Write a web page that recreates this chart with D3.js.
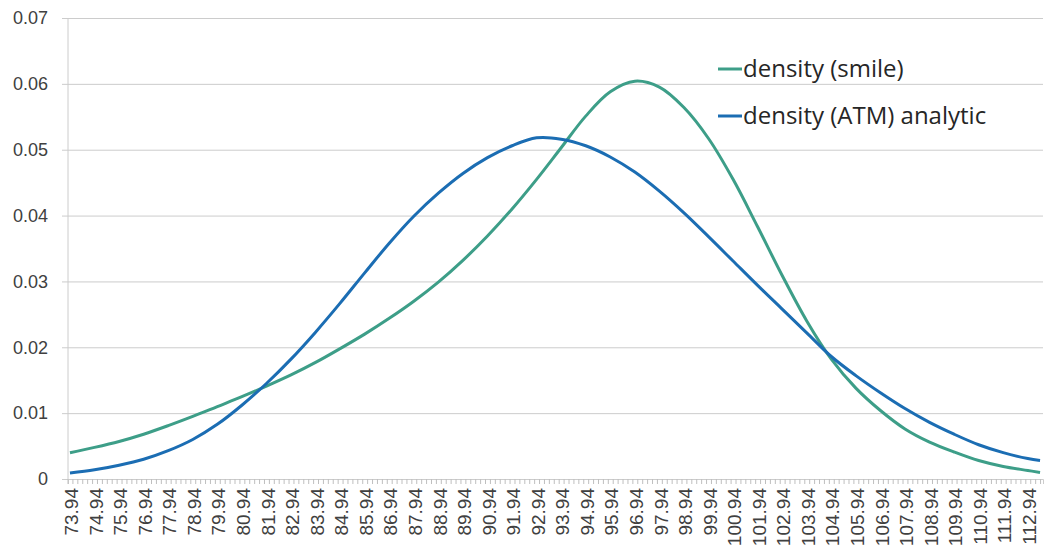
<!DOCTYPE html>
<html>
<head>
<meta charset="utf-8">
<script src="https://cdn.jsdelivr.net/npm/d3@7"></script>
<style>
  body { margin: 0; background: #fff; }
  .axis text { font-family: "Liberation Sans", Arial, sans-serif; fill: #404040; }
  .legend text { font-family: "Open Sans", "Noto Sans", sans-serif; fill: #262626; }
</style>
</head>
<body>
<div id="chart"></div>
<script>

// strike points (x values) of both series
var strikes = [73.94, 74.94, 75.94, 76.94, 77.94, 78.94, 79.94, 80.94, 81.94, 82.94,
               83.94, 84.94, 85.94, 86.94, 87.94, 88.94, 89.94, 90.94, 91.94, 92.94,
               93.94, 94.94, 95.94, 96.94, 97.94, 98.94, 99.94, 100.94, 101.94, 102.94,
               103.94, 104.94, 105.94, 106.94, 107.94, 108.94, 109.94, 110.94, 111.94, 112.94,
               113.44];

var densitySmile = [0.0040, 0.0048, 0.0057, 0.0068, 0.0081, 0.0095, 0.0110, 0.0125, 0.0141, 0.0158,
                    0.0177, 0.0198, 0.0220, 0.0244, 0.0270, 0.0299, 0.0332, 0.0369, 0.0410, 0.0455,
                    0.0503, 0.0551, 0.0588, 0.0604, 0.0595, 0.0564, 0.0517, 0.0455, 0.0383, 0.0309,
                    0.0240, 0.0182, 0.0138, 0.0104, 0.0076, 0.0056, 0.0041, 0.0028, 0.0019, 0.0013,
                    0.0010];

var densityATM = [0.0009, 0.0014, 0.0021, 0.0030, 0.0043, 0.0060, 0.0083, 0.0112, 0.0145, 0.0182,
                  0.0223, 0.0267, 0.0313, 0.0358, 0.0399, 0.0434, 0.0464, 0.0488, 0.0506, 0.0518,
                  0.0516, 0.0506, 0.0489, 0.0466, 0.0437, 0.0404, 0.0368, 0.0331, 0.0294, 0.0258,
                  0.0222, 0.0186, 0.0157, 0.0131, 0.0107, 0.0086, 0.0068, 0.0052, 0.0040, 0.0031,
                  0.0028];

var xTickLabels = ["73.94", "74.94", "75.94", "76.94", "77.94", "78.94", "79.94", "80.94", "81.94", "82.94",
                   "83.94", "84.94", "85.94", "86.94", "87.94", "88.94", "89.94", "90.94", "91.94", "92.94",
                   "93.94", "94.94", "95.94", "96.94", "97.94", "98.94", "99.94", "100.94", "101.94", "102.94",
                   "103.94", "104.94", "105.94", "106.94", "107.94", "108.94", "109.94", "110.94", "111.94", "112.94"];

var yTicks = [0, 0.01, 0.02, 0.03, 0.04, 0.05, 0.06, 0.07];

var seriesNames = ["density (smile)", "density (ATM) analytic"];
var seriesColors = ["#3d9e88", "#1b6db3"];

var margin = { top: 18, right: 2, bottom: 73, left: 68 };
var width = 1045 - margin.left - margin.right;
var height = 552 - margin.top - margin.bottom;

var x = d3.scaleLinear()
  .domain([73.86, 113.56])
  .range([0, width]);
var y = d3.scaleLinear()
  .domain([0, 0.07])
  .range([height, 0]);

var svg = d3.select("#chart").append("svg")
  .attr("width", 1045)
  .attr("height", 552);

var g = svg.append("g")
  .attr("transform", "translate(" + margin.left + "," + margin.top + ")");

// horizontal gridlines + y labels
var yAxis = d3.axisLeft(y)
  .tickValues(yTicks)
  .tickSize(-width - 6)
  .tickFormat(function(d) { return d === 0 ? "0" : d3.format(".2f")(d); });

var yG = g.append("g")
  .attr("class", "axis")
  .attr("transform", "translate(-6,0)")
  .call(yAxis);
yG.select(".domain").remove();
yG.selectAll("line").attr("stroke", "#cccccc").attr("stroke-width", 1);
yG.selectAll("text").style("font-size", "18px").attr("x", -14);

g.append("line")
  .attr("x1", 0).attr("x2", 0)
  .attr("y1", 0).attr("y2", height)
  .attr("stroke", "#cccccc");

// x axis: minor ticks every 0.2, labels every unit
var minorTicks = d3.range(0, 199).map(function(i) { return 73.84 + i * 0.2; });
var xMinor = d3.axisBottom(x)
  .tickValues(minorTicks)
  .tickSize(5)
  .tickFormat("");
var xm = g.append("g")
  .attr("class", "axis")
  .attr("transform", "translate(0," + height + ")")
  .call(xMinor);
xm.select(".domain").attr("stroke", "#cccccc");
xm.selectAll("line").attr("stroke", "#bfbfbf");

var labelValues = xTickLabels.map(function(d) { return +d; });
var xLabels = d3.axisBottom(x)
  .tickValues(labelValues)
  .tickSize(0)
  .tickFormat(function(d, i) { return xTickLabels[i]; });
var xl = g.append("g")
  .attr("class", "axis")
  .attr("transform", "translate(0," + height + ")")
  .call(xLabels);
xl.select(".domain").remove();
xl.selectAll("text")
  .style("font-size", "19px")
  .style("text-anchor", "end")
  .attr("transform", "rotate(-90)")
  .attr("x", -9)
  .attr("y", 1)
  .attr("dy", "0.35em");

// lines
var allSeries = [densitySmile, densityATM];
var line = d3.line()
  .x(function(d, i) { return x(strikes[i]); })
  .y(function(d) { return y(d); })
  .curve(d3.curveCatmullRom);

g.selectAll(".series")
  .data(allSeries)
  .enter()
  .append("path")
  .attr("class", "series")
  .attr("fill", "none")
  .attr("stroke", function(d, i) { return seriesColors[i]; })
  .attr("stroke-width", 3)
  .attr("stroke-linejoin", "round")
  .attr("d", line);

// legend
var legend = svg.append("g")
  .attr("class", "legend")
  .attr("transform", "translate(718,69)");

var item = legend.selectAll("g")
  .data(seriesNames)
  .enter()
  .append("g")
  .attr("transform", function(d, i) { return "translate(0," + (i * 47) + ")"; });

item.append("line")
  .attr("x1", 0).attr("x2", 24)
  .attr("stroke", function(d, i) { return seriesColors[i]; })
  .attr("stroke-width", 3);

item.append("text")
  .attr("x", 25)
  .attr("dy", "0.35em")
  .style("font-size", "24px")
  .text(function(d) { return d; });

</script>
</body>
</html>
